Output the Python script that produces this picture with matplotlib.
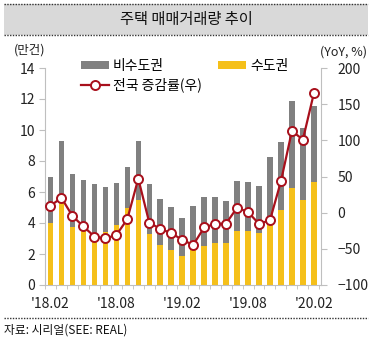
import matplotlib
matplotlib.use("Agg")
import matplotlib.pyplot as plt
from matplotlib.patches import Rectangle, Patch
from matplotlib.lines import Line2D
import numpy as np

plt.rcParams['font.family'] = ['Noto Sans CJK KR', 'DejaVu Sans']

months = ["'18.02", "'18.03", "'18.04", "'18.05", "'18.06", "'18.07", "'18.08", "'18.09",
          "'18.10", "'18.11", "'18.12", "'19.01", "'19.02", "'19.03", "'19.04", "'19.05",
          "'19.06", "'19.07", "'19.08", "'19.09", "'19.10", "'19.11", "'19.12", "'20.01", "'20.02"]
# total (수도권 + 비수도권), 만건
total = [6.98, 9.26, 7.15, 6.77, 6.49, 6.34, 6.57, 7.62, 9.26, 6.49, 5.55, 5.02, 4.33,
         5.10, 5.70, 5.70, 5.44, 6.72, 6.62, 6.38, 8.24, 9.22, 11.85, 10.14, 11.53]
capital = [4.03, 5.38, 3.71, 3.46, 3.24, 3.39, 3.86, 4.95, 5.49, 3.27, 2.60, 2.24, 1.86,
           2.28, 2.54, 2.69, 2.69, 3.46, 3.50, 3.33, 3.95, 4.85, 6.28, 5.51, 6.64]
noncapital = [round(t - c, 2) for t, c in zip(total, capital)]
yoy = [9.6, 20.5, -4.6, -19, -33, -35.6, -31, -9, 47, -13.7, -22.4, -28.3, -37.4,
       -44.7, -20.5, -15.5, -15, 6.8, 0.9, -15.5, -10.5, 43.4, 113, 101, 165]
label_idx = [0, 6, 12, 18, 24]

W, H = 372, 339
fig = plt.figure(figsize=(W / 100, H / 100), dpi=100)

def fx(px):
    return px / W

def fy(py):
    return 1 - py / H

# Title box
fig.patches.append(Rectangle((fx(4), fy(35)), fx(364), 31 / H, transform=fig.transFigure,
                             facecolor='#d9d9d9', edgecolor='none', zorder=0))
for yy in (4, 35):
    fig.lines.append(Line2D([fx(4), fx(368)], [fy(yy), fy(yy)], transform=fig.transFigure,
                            color='#333333', lw=1.0, ls=(0, (1, 1))))
fig.text(0.5, fy(19.5), '주택 매매거래량 추이', ha='center', va='center', fontsize=11, color='#111111')

# bottom dotted line and source
fig.lines.append(Line2D([fx(4), fx(368)], [fy(318), fy(318)], transform=fig.transFigure,
                        color='#333333', lw=1.0, ls=(0, (1, 1))))
fig.text(fx(4), fy(330), '자료: 시리얼(SEE: REAL)', ha='left', va='center', fontsize=8.5, color='#111111')

ax = fig.add_axes([fx(45), fy(285), fx(321 - 45), (285 - 68) / H])
x = np.arange(len(months))
gray = '#808080'
yellow = '#f5c01a'
red = '#a8101c'
ax.bar(x, capital, width=0.5, color=yellow, zorder=2)
ax.bar(x, noncapital, width=0.5, bottom=capital, color=gray, zorder=2)
ax.set_ylim(0, 14)
ax.set_xlim(-0.5, 24.65)
ax.set_yticks(range(0, 15, 2))

ax2 = ax.twinx()
ax2.plot(x, yoy, color=red, lw=1.6, marker='o', ms=6.5, mfc='white', mec=red, mew=1.4, zorder=3)
ax2.set_ylim(-100, 200)
ax2.set_yticks(range(-100, 201, 50))

for a in (ax, ax2):
    for s in ('top',):
        a.spines[s].set_visible(False)
ax.spines['right'].set_visible(False)
ax2.spines['left'].set_visible(False)
ax2.spines['top'].set_visible(False)
ax2.spines['bottom'].set_visible(False)
ax.spines['left'].set_color('#bfbfbf')
ax.spines['bottom'].set_color('#bfbfbf')
ax2.spines['right'].set_color('#bfbfbf')

ax.set_xticks(label_idx)
ax.set_xticklabels([months[i] for i in label_idx])
ax.set_xticks(np.arange(-0.5, 25, 1), minor=True)
ax.tick_params(axis='x', which='major', length=0, pad=9, labelsize=10, labelcolor='#222222')
ax.tick_params(axis='x', which='minor', length=3, color='#bfbfbf', direction='out')
ax.tick_params(axis='y', length=4, color='#bfbfbf', labelsize=10, labelcolor='#222222', pad=3)
ax2.tick_params(axis='y', length=4, color='#bfbfbf', labelsize=10, labelcolor='#222222', pad=8)

fig.text(fx(30), fy(50), '(만건)', ha='center', va='center', fontsize=9, color='#222222')
fig.text(fx(343), fy(52), '(YoY, %)', ha='center', va='center', fontsize=9, color='#222222')

ax2.set_zorder(ax.get_zorder() + 1)
ax2.patch.set_visible(False)

handles = [Patch(facecolor=gray, edgecolor='none'),
           Line2D([], [], color=red, lw=1.6, marker='o', ms=6.5, mfc='white', mec=red, mew=1.4),
           Patch(facecolor=yellow, edgecolor='none')]
labels = ['비수도권', '전국 증감률(우)', '수도권']
leg = ax2.legend(handles, labels, ncol=2, loc='upper left', bbox_to_anchor=(fx(74), fy(52)),
                 bbox_transform=fig.transFigure, frameon=False, fontsize=10,
                 handlelength=2.0, handleheight=0.5, handletextpad=0.3, columnspacing=1.2,
                 labelspacing=0.35, borderpad=0)

fig.savefig('out.png', dpi=100)
